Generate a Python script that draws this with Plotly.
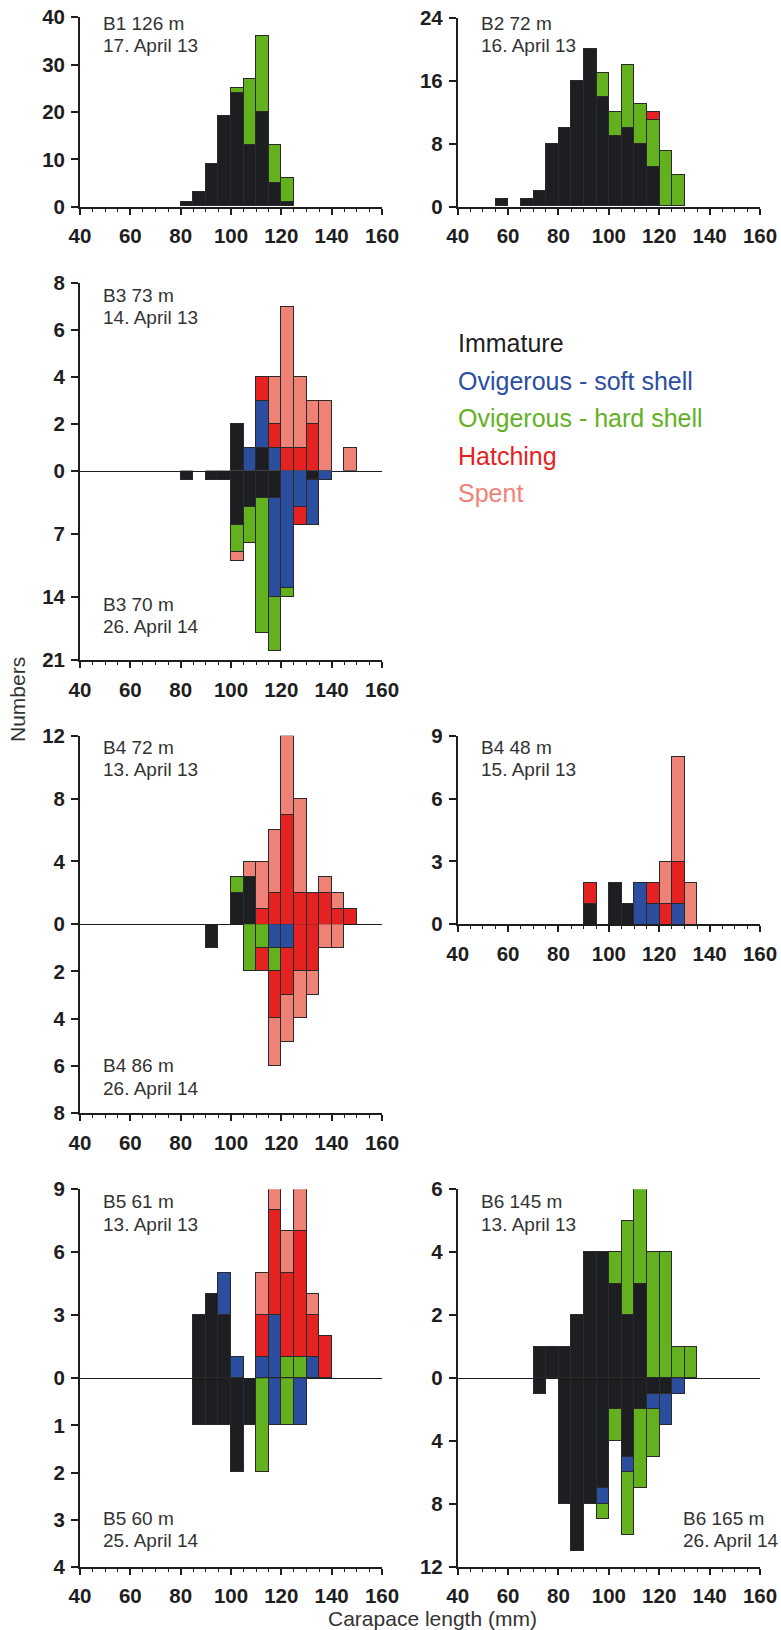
import plotly.graph_objects as go

# ---------------- data ----------------
BIN_EDGES = [55, 60, 65, 70, 75, 80, 85, 90, 95, 100, 105, 110, 115, 120, 125, 130, 135, 140, 145]
BIN_WIDTH = 5
CATEGORIES = ["Immature", "Ovigerous - soft shell", "Ovigerous - hard shell", "Hatching", "Spent"]
COLORS = ["#1d1e21", "#2b4e9f", "#63b11f", "#e52222", "#ef8276"]
X_TICKS = [40, 60, 80, 100, 120, 140, 160]

# counts keyed by lower bin edge (mm)
B1_imm = {80: 1, 85: 3, 90: 9, 95: 19, 100: 24, 105: 13, 110: 20, 115: 5, 120: 1}
B1_hard = {100: 1, 105: 14, 110: 16, 115: 8, 120: 5}

B2_imm = {55: 1, 65: 1, 70: 2, 75: 8, 80: 10, 85: 16, 90: 20, 95: 14, 100: 9, 105: 10, 110: 8, 115: 5}
B2_hard = {95: 3, 100: 3, 105: 8, 110: 5, 115: 6, 120: 7, 125: 4}
B2_hatch = {115: 1}

B3a_imm = {100: 2, 110: 1}
B3a_soft = {105: 1, 110: 2, 115: 1}
B3a_hatch = {110: 1, 115: 1, 120: 1, 125: 1, 130: 2}
B3a_spent = {115: 2, 120: 6, 125: 3, 130: 1, 135: 3, 145: 1}

B3b_imm = {80: 1, 90: 1, 95: 1, 100: 6, 105: 4, 110: 3, 115: 3, 130: 1}
B3b_soft = {115: 11, 120: 13, 125: 4, 130: 5, 135: 1}
B3b_hard = {100: 3, 105: 4, 110: 15, 115: 6, 120: 1}
B3b_hatch = {125: 2}
B3b_spent = {100: 1}

B4a_imm = {100: 2, 105: 3}
B4a_hard = {100: 1}
B4a_hatch = {110: 1, 115: 2, 120: 7, 125: 2, 130: 2, 135: 2, 140: 1, 145: 1}
B4a_spent = {105: 1, 110: 3, 115: 4, 120: 5, 125: 6, 135: 1, 140: 1}

B4b_imm = {90: 1}
B4b_soft = {115: 1, 120: 1}
B4b_hard = {105: 2, 110: 1, 115: 1}
B4b_hatch = {110: 1, 115: 2, 120: 2, 125: 2, 130: 2}
B4b_spent = {115: 2, 120: 2, 125: 2, 130: 1, 135: 1, 140: 1}

B4c_imm = {90: 1, 100: 2, 105: 1}
B4c_soft = {110: 2, 115: 1, 125: 1}
B4c_hatch = {90: 1, 115: 1, 120: 1, 125: 2}
B4c_spent = {120: 2, 125: 5, 130: 2}

B5a_imm = {85: 3, 90: 4, 95: 3}
B5a_soft = {95: 2, 100: 1, 110: 1, 115: 3, 130: 1}
B5a_hard = {120: 1, 125: 1}
B5a_hatch = {110: 2, 115: 5, 120: 4, 125: 6, 130: 2, 135: 2}
B5a_spent = {110: 2, 115: 1, 120: 2, 125: 2, 130: 1}

B5b_imm = {85: 1, 90: 1, 95: 1, 100: 2, 105: 1}
B5b_soft = {115: 1, 125: 1}
B5b_hard = {110: 2, 120: 1}

B6a_imm = {70: 1, 75: 1, 80: 1, 85: 2, 90: 4, 95: 4, 100: 3, 105: 2, 110: 3}
B6a_hard = {100: 1, 105: 3, 110: 3, 115: 4, 120: 4, 125: 1, 130: 1}

B6b_imm = {70: 1, 80: 8, 85: 11, 90: 8, 95: 7, 100: 2, 105: 5, 110: 2, 115: 1, 120: 1}
B6b_soft = {95: 1, 105: 1, 115: 1, 120: 2, 125: 1}
B6b_hard = {95: 1, 100: 2, 105: 4, 110: 5, 115: 3}

EMPTY = {}

# ---------------- layout helpers ----------------
W, H = 781, 1630
XL = (80, 382)      # left column pixel extent of 40..160
XR = (457.7, 760)   # right column

def fx(p):
    return p / W

def fy(p):
    return 1 - p / H

def px_x(a, b):
    return [fx(a), fx(b)]

def px_y(top, bottom):
    return [fy(bottom), fy(top)]

# subplot: (col, top_px, bottom_px, range, tickvals, reversed, show_xticks, series)
SUBPLOTS = [
    (XL, 17.3, 206.7, 40, [0, 10, 20, 30, 40], False, True, [B1_imm, EMPTY, B1_hard, EMPTY, EMPTY]),
    (XR, 18.3, 206.7, 24, [0, 8, 16, 24], False, True, [B2_imm, EMPTY, B2_hard, B2_hatch, EMPTY]),
    (XL, 282.7, 470.7, 8, [0, 2, 4, 6, 8], False, False, [B3a_imm, B3a_soft, EMPTY, B3a_hatch, B3a_spent]),
    (XL, 470.7, 660.0, 21, [7, 14, 21], True, True, [B3b_imm, B3b_soft, B3b_hard, B3b_hatch, B3b_spent]),
    (XL, 735.7, 924.3, 12, [0, 4, 8, 12], False, False, [B4a_imm, EMPTY, B4a_hard, B4a_hatch, B4a_spent]),
    (XL, 924.3, 1113.0, 8, [2, 4, 6, 8], True, True, [B4b_imm, B4b_soft, B4b_hard, B4b_hatch, B4b_spent]),
    (XR, 735.7, 924.3, 9, [0, 3, 6, 9], False, True, [B4c_imm, B4c_soft, EMPTY, B4c_hatch, B4c_spent]),
    (XL, 1189.3, 1378.3, 9, [0, 3, 6, 9], False, False, [B5a_imm, B5a_soft, B5a_hard, B5a_hatch, B5a_spent]),
    (XL, 1378.3, 1566.7, 4, [1, 2, 3, 4], True, True, [B5b_imm, B5b_soft, B5b_hard, EMPTY, EMPTY]),
    (XR, 1189.3, 1378.3, 6, [0, 2, 4, 6], False, False, [B6a_imm, EMPTY, B6a_hard, EMPTY, EMPTY]),
    (XR, 1378.3, 1566.7, 12, [4, 8, 12], True, True, [B6b_imm, B6b_soft, B6b_hard, EMPTY, EMPTY]),
]

TICK_FONT = dict(family="Liberation Sans", size=20.5, color="#1e1e1e", weight="bold")
AXCOL = "#1e1e1e"

fig = go.Figure()
layout = {}

for i, (col, top, bot, ymax, yticks, rev, show_xt, series) in enumerate(SUBPLOTS, start=1):
    xa = "x" if i == 1 else f"x{i}"
    ya = "y" if i == 1 else f"y{i}"
    for cat, color, data in zip(CATEGORIES, COLORS, series):
        edges = [e for e in BIN_EDGES if data.get(e, 0) > 0]
        if not edges:
            continue
        fig.add_trace(go.Bar(
            x=[e + BIN_WIDTH / 2 for e in edges],
            y=[data[e] for e in edges],
            width=BIN_WIDTH,
            name=cat,
            cliponaxis=False,
            marker=dict(color=color, line=dict(color="#2a2a2a", width=1)),
            xaxis=xa, yaxis=ya, showlegend=False,
        ))
    xkey = "xaxis" if i == 1 else f"xaxis{i}"
    ykey = "yaxis" if i == 1 else f"yaxis{i}"
    xd = dict(domain=px_x(*col), anchor=ya, range=[40, 160], showgrid=False, zeroline=False,
              showline=True, linecolor=AXCOL, fixedrange=True, automargin=False)
    if show_xt:
        xd.update(linewidth=1.8, ticks="outside", ticklen=6, tickwidth=1.8, tickcolor=AXCOL,
                  tickvals=X_TICKS, tickfont=TICK_FONT, ticklabelstandoff=4, ticklabeloverflow="allow",
                  minor=dict(dtick=5, tick0=40, ticks="outside", ticklen=3, tickwidth=1.2, tickcolor=AXCOL))
    else:
        xd.update(linewidth=1.2, ticks="", showticklabels=False)
    layout[xkey] = xd
    yr = [ymax, 0] if rev else [0, ymax]
    layout[ykey] = dict(domain=px_y(top, bot), anchor=xa, range=yr, showgrid=False, zeroline=False,
                        showline=True, linewidth=1.8, linecolor=AXCOL, ticks="outside", ticklen=7,
                        tickwidth=1.8, tickcolor=AXCOL, tickvals=yticks, tickfont=TICK_FONT,
                        ticklabelstandoff=2, ticklabeloverflow="allow", fixedrange=True, automargin=False)

# panel labels (station / depth, date)
LABELS = [
    (102.7, 23.3, "B1 126 m", "17. April 13"),
    (480.7, 23.3, "B2 72 m", "16. April 13"),
    (102.7, 295.0, "B3 73 m", "14. April 13"),
    (102.7, 604.3, "B3 70 m", "26. April 14"),
    (102.7, 747.7, "B4 72 m", "13. April 13"),
    (102.7, 1065.7, "B4 86 m", "26. April 14"),
    (480.7, 747.7, "B4 48 m", "15. April 13"),
    (102.7, 1201.7, "B5 61 m", "13. April 13"),
    (102.7, 1518.3, "B5 60 m", "25. April 14"),
    (480.7, 1201.7, "B6 145 m", "13. April 13"),
    (683.0, 1518.3, "B6 165 m", "26. April 14"),
]
annotations = []
LABEL_FONT = dict(family="Liberation Sans", size=19, color="#333333")
for x, y, l1, l2 in LABELS:
    for dy, t in ((0, l1), (22.3, l2)):
        annotations.append(dict(x=fx(x - 2), y=fy(y + dy), xref="paper", yref="paper", text=t,
                                showarrow=False, xanchor="left", yanchor="middle", font=LABEL_FONT))

# legend as coloured text
for k, (cat, color) in enumerate(zip(CATEGORIES, COLORS)):
    annotations.append(dict(x=fx(456), y=fy(343 + 37.5 * k), xref="paper", yref="paper", text=cat,
                            showarrow=False, xanchor="left", yanchor="middle",
                            font=dict(family="Liberation Sans", size=25, color=color)))

annotations.append(dict(x=fx(18), y=fy(700), xref="paper", yref="paper", text="Numbers", textangle=-90,
                        showarrow=False, xanchor="center", yanchor="middle",
                        font=dict(family="Liberation Sans", size=21, color="#333333")))
annotations.append(dict(x=fx(432), y=fy(1618), xref="paper", yref="paper", text="Carapace length (mm)",
                        showarrow=False, xanchor="center", yanchor="middle",
                        font=dict(family="Liberation Sans", size=21, color="#333333")))

fig.update_layout(width=W, height=H, margin=dict(l=0, r=0, t=0, b=0, autoexpand=False), barmode="stack",
                  bargap=0, plot_bgcolor="white", paper_bgcolor="white", annotations=annotations, **layout)

# remove the default page margin so the figure sits exactly in the 781x1630 window
fig.write_html("out.html", config={"displayModeBar": False},
               post_script="document.body.style.margin='0';document.body.style.overflow='hidden';")
